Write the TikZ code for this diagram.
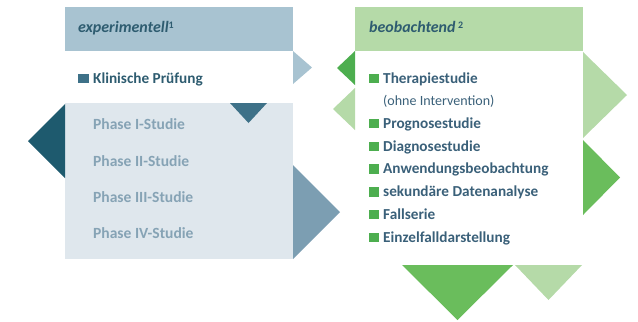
\documentclass[tikz,border=0pt]{standalone}
\usepackage{fontspec}
\setmainfont{Carlito}
\definecolor{hdrblue}{HTML}{A8C3D1}
\definecolor{bodyblue}{HTML}{DFE7ED}
\definecolor{darkteal}{HTML}{1E5A6E}
\definecolor{midteal}{HTML}{3E7188}
\definecolor{greyblue}{HTML}{7C9EB2}
\definecolor{phasetxt}{HTML}{86A3B5}
\definecolor{hdrtxt}{HTML}{2E5C70}
\definecolor{lightgreen}{HTML}{B5DAA8}
\definecolor{darkgreen}{HTML}{4DAE4F}
\definecolor{midgreen}{HTML}{6ABD5C}
\definecolor{itemtxt}{HTML}{3A6079}
\newcommand{\supnum}[1]{\raisebox{4bp}{\fontsize{10}{10}\selectfont\upshape #1}}
\tikzset{
  hdr/.style={anchor=base west,inner sep=0pt,font=\fontsize{16}{18}\selectfont\bfseries\itshape,text=hdrtxt},
  item/.style={anchor=base west,inner sep=0pt,font=\fontsize{15.3}{17}\selectfont\bfseries,text=itemtxt},
  subitem/.style={anchor=base west,inner sep=0pt,font=\fontsize{14.1}{16}\selectfont,text=itemtxt},
  phase/.style={anchor=base west,inner sep=0pt,font=\fontsize{15.6}{17}\selectfont\bfseries,text=phasetxt},
  sq/.style={fill=#1,draw=none},
}
\begin{document}
\begin{tikzpicture}[x=1bp,y=-1bp]
\useasboundingbox (0,0) rectangle (638,321);
% ---------- left panel ----------
\fill[hdrblue] (65,7) rectangle (293,51);
\fill[bodyblue] (65,103) rectangle (293,259);
\fill[hdrblue] (293,51) -- (312,67.5) -- (293,84) -- cycle;
\fill[midteal] (230,103) -- (267,103) -- (248.5,123) -- cycle;
\fill[darkteal] (65,104) -- (28,141) -- (65,178) -- cycle;
\fill[greyblue] (293,165) -- (340,212) -- (293,259) -- cycle;
\node[hdr] (exp) at (78,32.5) {experimentell\supnum{1}};
\fill[sq=midteal] (78,73.5) rectangle (88.5,83);
\node[item,text=hdrtxt] (kp) at (93,83) {Klinische Prüfung};
\node[phase] (p1) at (93,129) {Phase I-Studie};
\node[phase] (p2) at (93,166) {Phase II-Studie};
\node[phase] (p3) at (93,202) {Phase III-Studie};
\node[phase] (p4) at (93,238) {Phase IV-Studie};
% ---------- right panel ----------
\fill[lightgreen] (355,7) rectangle (583,51);
\fill[darkgreen] (355,51) -- (337,68) -- (355,85) -- cycle;
\fill[lightgreen] (355,88) -- (333,109) -- (355,130) -- cycle;
\fill[lightgreen] (583,52) -- (627,95) -- (583,138) -- cycle;
\fill[midgreen] (583,140) -- (620,177.5) -- (583,215) -- cycle;
\fill[midgreen] (402,265) -- (513,265) -- (457.5,320) -- cycle;
\fill[lightgreen] (515,265) -- (582,265) -- (548.5,300) -- cycle;
\node[hdr] (beo) at (369,32.5) {beobachtend\,\supnum{2}};
\foreach \n/\yy/\t in {a/83/Therapiestudie,c/128.4/Prognosestudie,d/151/Diagnosestudie,e/173.8/Anwendungsbeobachtung,f/196.5/sekundäre Datenanalyse,g/219.2/Fallserie,h/242/Einzelfalldarstellung}{
  \fill[sq=darkgreen] (368.5,\yy-9.5) rectangle (379,\yy);
  \node[item] (i\n) at (383,\yy) {\t};
}
\node[subitem] (ib) at (383,105.7) {(ohne Intervention)};
\end{tikzpicture}
\end{document}
